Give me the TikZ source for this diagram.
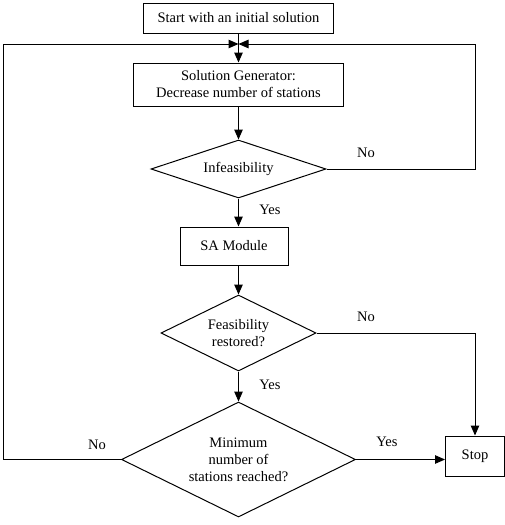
\documentclass[tikz,border=0pt]{standalone}
\usepackage{fontspec}
\setmainfont{Liberation Serif}
\usetikzlibrary{shapes.geometric,arrows.meta}
\begin{document}
\begin{tikzpicture}[x=1pt,y=-1pt,
  every node/.style={font=\fontsize{14.5}{17}\selectfont},
  box/.style={draw,line width=1pt,inner sep=2pt,align=center},
  dia/.style={draw,diamond,line width=1pt,inner sep=0pt,align=center},
  conn/.style={line width=1pt},
  arr/.style={conn,-{Triangle[length=10pt,width=8.5pt]}},
  lbl/.style={inner sep=0pt}]
\useasboundingbox (0,0) rectangle (505,525);
\node[box,minimum width=190pt,minimum height=30pt] (start) at (238.5,18) {Start with an initial solution};
\node[box,minimum width=210pt,minimum height=43pt] (gen) at (238.5,84.5) {Solution Generator:\\Decrease number of stations};
\node[dia,minimum width=175pt,minimum height=58pt,shape aspect=3] (infeas) at (238.5,169) {Infeasibility};
\node[box,minimum width=108pt,minimum height=38pt] (sa) at (234,246) {SA Module};
\node[dia,minimum width=155pt,minimum height=76pt,shape aspect=2] (feas) at (238.5,333) {Feasibility\\restored?};
\node[dia,minimum width=234pt,minimum height=115pt,shape aspect=2] (minr) at (238.5,459.5) {Minimum\\number of\\stations reached?};
\node[box,minimum width=59pt,minimum height=40pt] (stop) at (475,456) {Stop};
\coordinate (j) at (238.5,44);
\coordinate (L) at (3,44);
\coordinate (R) at (475,44);
\draw[conn] (start) -- (j);
\draw[arr] (j) -- (gen);
\draw[arr] (minr.west) -| (L) -- (j);
\draw[arr] (infeas.east) -| (R) -- (j);
\draw[arr] (gen) -- (infeas);
\draw[arr] (infeas.south) -- (infeas.south |- sa.north);
\draw[arr] (feas.north |- sa.south) -- (feas.north);
\draw[arr] (feas.south) -- (minr.north);
\draw[arr] (feas.east) -| (stop.north);
\draw[arr] (minr.east) -- (minr.east -| stop.west);
\node[lbl] (l1) at (366,153) {No};
\node[lbl] (l2) at (270,210) {Yes};
\node[lbl] (l3) at (366,317) {No};
\node[lbl] (l4) at (270,385) {Yes};
\node[lbl] (l5) at (97,445) {No};
\node[lbl] (l6) at (387,442) {Yes};
\end{tikzpicture}
\end{document}
